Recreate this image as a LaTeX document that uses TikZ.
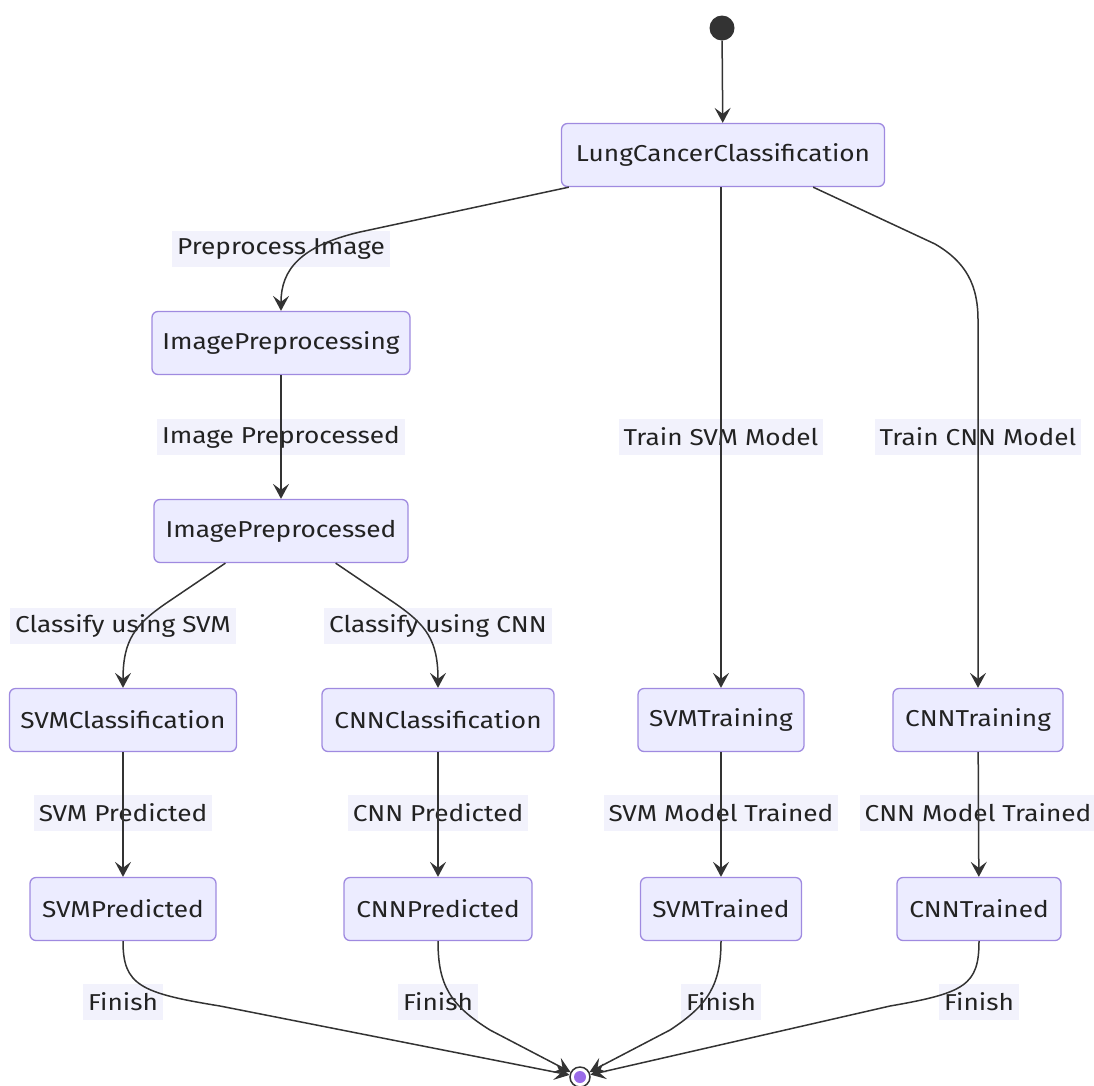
\documentclass[tikz,border=0pt]{standalone}
\usepackage{fontspec}
\setmainfont[FakeStretch=1.14]{Fira Sans}
\usetikzlibrary{arrows.meta}
\definecolor{nodefill}{HTML}{ECECFF}
\definecolor{nodeline}{HTML}{9F8AE0}
\definecolor{edgecol}{HTML}{333333}
\definecolor{lblfill}{HTML}{F2F2FC}
\definecolor{endfill}{HTML}{9A6BE8}
\definecolor{txt}{HTML}{222222}
\tikzset{
  state/.style={draw=nodeline, fill=nodefill, line width=1.3pt, rounded corners=6pt,
    minimum height=63pt, inner sep=0pt, font=\fontsize{23}{27}\selectfont, text=txt},
  lbl/.style={fill=lblfill, inner xsep=5pt, minimum height=36pt, font=\fontsize{23}{27}\selectfont, text=txt},
  edge/.style={draw=edgecol, line width=1.5pt, -{Stealth[length=15pt,width=16pt,inset=6pt]}},
  plain/.style={draw=edgecol, line width=1.5pt}
}
\begin{document}
\begin{tikzpicture}[x=1pt,y=-1pt]
\useasboundingbox (0,0) rectangle (1094,1085);
% start / end
\node[circle, fill=edgecol, minimum size=25pt, inner sep=0pt] (start) at (722,28) {};
\node[circle, draw=edgecol, fill=white, line width=1.5pt, minimum size=20pt, inner sep=0pt] (endst) at (580,1077) {};
\node[circle, fill=endfill, minimum size=12pt, inner sep=0pt] (endin) at (580,1077) {};
% states
\node[state, minimum width=323pt] (lcc) at (723,155) {LungCancerClassification};
\node[state, minimum width=258pt] (ipg) at (281,343) {ImagePreprocessing};
\node[state, minimum width=254pt] (ipd) at (281,531) {ImagePreprocessed};
\node[state, minimum width=227pt] (svmc) at (123,720) {SVMClassification};
\node[state, minimum width=232pt] (cnnc) at (438,720) {CNNClassification};
\node[state, minimum width=166pt] (svmt) at (721,720) {SVMTraining};
\node[state, minimum width=170pt] (cnnt) at (978,720) {CNNTraining};
\node[state, minimum width=186pt] (svmp) at (123,909) {SVMPredicted};
\node[state, minimum width=188pt] (cnnp) at (438,909) {CNNPredicted};
\node[state, minimum width=161pt] (svmtd) at (721,909) {SVMTrained};
\node[state, minimum width=164pt] (cnntd) at (979,909) {CNNTrained};
% labels
\node[lbl] (l1) at (281,249) {Preprocess Image};
\node[lbl] (l2) at (281,437) {Image Preprocessed};
\node[lbl] (l3) at (721,437) {Train SVM Model};
\node[lbl] (l4) at (978,437) {Train CNN Model};
\node[lbl] (l5) at (123,626) {Classify using SVM};
\node[lbl] (l6) at (438,626) {Classify using CNN};
\node[lbl] (l7) at (123,813) {SVM Predicted};
\node[lbl] (l8) at (438,813) {CNN Predicted};
\node[lbl] (l9) at (721,813) {SVM Model Trained};
\node[lbl] (l10) at (978,813) {CNN Model Trained};
\node[lbl] (f1) at (123,1002) {Finish};
\node[lbl] (f2) at (438,1002) {Finish};
\node[lbl] (f3) at (721,1002) {Finish};
\node[lbl] (f4) at (979,1002) {Finish};
% edges
\draw[edge] (start) -- (lcc);
\draw[edge] ([xshift=8pt]lcc.south west) -- (360,232) .. controls (300,246) and (281,270) .. (ipg.north);
\draw[edge] (lcc.south -| svmt.north) -- (svmt.north);
\draw[edge] ([xshift=-72pt]lcc.south east) -- (935,244) .. controls (966,262) and (978,285) .. (978,320) -- (cnnt.north);
\draw[edge] (ipg) -- (ipd);
\draw[edge] ([xshift=72pt]ipd.south west) -- (165,604) .. controls (135,625) and (123,640) .. (svmc.north);
\draw[edge] ([xshift=-73pt]ipd.south east) -- (396,604) .. controls (426,625) and (438,640) .. (cnnc.north);
\draw[edge] (svmc) -- (svmp);
\draw[edge] (cnnc) -- (cnnp);
\draw[edge] (svmt) -- (svmtd);
\draw[edge] (cnnt) -- (cnntd);
\draw[edge] (svmp.south) .. controls (123,985) and (140,993) .. (220,1006) -- (endst);
\draw[edge] (cnnp.south) .. controls (438,985) and (450,1005) .. (490,1030) -- (endst);
\draw[edge] (svmtd.south) .. controls (721,985) and (708,1005) .. (670,1030) -- (endst);
\draw[edge] (cnntd.south) .. controls (979,985) and (965,993) .. (890,1006) -- (endst);
\end{tikzpicture}
\end{document}
